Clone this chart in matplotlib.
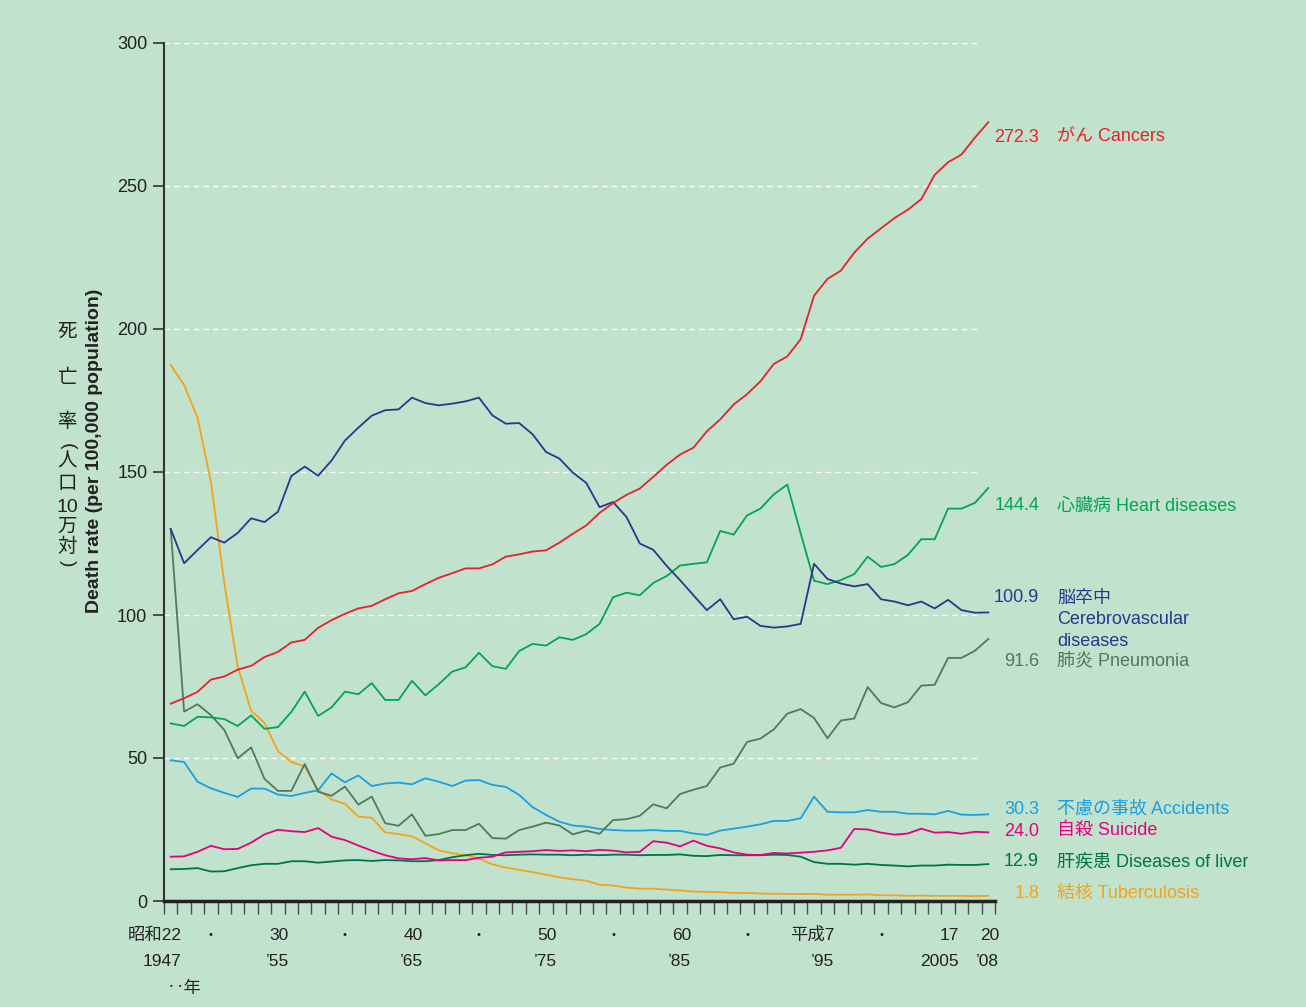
import matplotlib
matplotlib.use("Agg")
from matplotlib import pyplot as plt
from matplotlib.transforms import blended_transform_factory

# 年次 1947(昭和22) - 2008(平成20)
years = list(range(1947, 2009))

cancer = [69.0, 70.9, 73.1, 77.4, 78.5, 80.9, 82.2, 85.3, 87.1, 90.4,
          91.3, 95.5, 98.2, 100.4, 102.3, 103.2, 105.5, 107.6, 108.4, 110.8,
          113.0, 114.6, 116.3, 116.3, 117.7, 120.4, 121.2, 122.2, 122.6, 125.3,
          128.4, 131.3, 135.7, 139.1, 142.0, 144.2, 148.3, 152.5, 156.1, 158.5,
          164.2, 168.4, 173.6, 177.2, 181.7, 187.8, 190.4, 196.4, 211.6, 217.5,
          220.4, 226.7, 231.6, 235.2, 238.8, 241.7, 245.4, 253.9, 258.3, 261.0,
          266.9, 272.3]
heart = [62.1, 61.2, 64.4, 64.2, 63.6, 61.2, 64.9, 60.2, 60.8, 66.1,
         73.2, 64.7, 67.7, 73.2, 72.3, 76.2, 70.3, 70.3, 77.0, 71.9,
         75.8, 80.2, 81.7, 86.8, 82.1, 81.2, 87.4, 89.9, 89.3, 92.2,
         91.3, 93.3, 96.9, 106.2, 107.8, 106.9, 111.2, 113.6, 117.3, 117.9,
         118.4, 129.4, 128.1, 134.8, 137.2, 142.2, 145.6, 128.6, 112.0, 110.8,
         112.2, 114.3, 120.4, 116.8, 117.8, 121.0, 126.5, 126.5, 137.2, 137.2,
         139.2, 144.4]
cerebro = [130.1, 118.1, 122.7, 127.2, 125.3, 128.7, 133.8, 132.5, 136.1, 148.6,
           151.9, 148.7, 154.0, 161.0, 165.5, 169.7, 171.6, 171.9, 176.0, 174.1,
           173.3, 173.9, 174.7, 176.0, 169.8, 166.9, 167.1, 163.2, 157.0, 154.7,
           149.8, 146.2, 137.7, 139.5, 134.3, 125.0, 122.8, 117.2, 112.2, 106.9,
           101.7, 105.5, 98.5, 99.4, 96.2, 95.6, 96.0, 96.9, 117.9, 112.6,
           111.0, 110.0, 110.8, 105.5, 104.7, 103.4, 104.7, 102.3, 105.3, 101.7,
           100.8, 100.9]
pneumonia = [130.1, 66.2, 68.8, 65.0, 59.8, 49.9, 53.7, 42.7, 38.5, 38.5,
             47.9, 38.2, 36.8, 40.0, 33.7, 36.5, 27.2, 26.3, 30.3, 22.8,
             23.4, 24.8, 24.8, 27.0, 22.0, 21.8, 24.8, 26.0, 27.4, 26.4,
             23.3, 24.6, 23.5, 28.3, 28.6, 29.8, 33.8, 32.4, 37.4, 38.9,
             40.2, 46.7, 48.0, 55.6, 56.8, 60.0, 65.5, 67.1, 64.0, 56.9,
             63.1, 63.8, 74.8, 69.2, 67.7, 69.5, 75.3, 75.6, 85.0, 85.0,
             87.5, 91.6]
accidents = [49.2, 48.6, 41.7, 39.4, 37.8, 36.4, 39.3, 39.3, 37.2, 36.7,
             37.8, 38.7, 44.6, 41.5, 43.9, 40.2, 41.1, 41.4, 40.8, 42.9,
             41.7, 40.2, 42.1, 42.3, 40.6, 39.9, 37.1, 32.8, 30.1, 27.7,
             26.4, 26.0, 25.2, 24.8, 24.6, 24.6, 24.8, 24.5, 24.5, 23.6,
             23.1, 24.6, 25.3, 26.0, 26.8, 28.0, 28.0, 28.9, 36.5, 31.2,
             31.0, 31.0, 31.8, 31.2, 31.2, 30.5, 30.5, 30.3, 31.5, 30.2,
             30.1, 30.3]
suicide = [15.5, 15.6, 17.2, 19.3, 18.1, 18.2, 20.4, 23.3, 24.9, 24.4,
           24.1, 25.5, 22.5, 21.3, 19.4, 17.6, 16.0, 14.9, 14.6, 15.0,
           14.2, 14.3, 14.3, 15.1, 15.5, 17.0, 17.2, 17.4, 17.8, 17.5,
           17.7, 17.4, 17.9, 17.6, 17.0, 17.2, 20.9, 20.4, 19.1, 21.1,
           19.3, 18.4, 17.0, 16.2, 16.1, 16.8, 16.6, 16.9, 17.2, 17.7,
           18.6, 25.2, 25.0, 23.9, 23.2, 23.6, 25.3, 23.9, 24.1, 23.5,
           24.2, 24.0]
liver = [11.1, 11.2, 11.5, 10.3, 10.4, 11.5, 12.5, 13.0, 13.0, 13.9,
         13.9, 13.4, 13.8, 14.2, 14.3, 14.0, 14.3, 14.2, 13.9, 13.9,
         14.3, 15.3, 16.0, 16.5, 16.1, 16.0, 16.2, 16.3, 16.2, 16.2,
         16.0, 16.2, 16.0, 16.2, 16.2, 16.0, 16.1, 16.1, 16.3, 15.8,
         15.7, 16.1, 16.0, 16.0, 16.0, 16.2, 16.1, 15.5, 13.6, 13.0,
         13.0, 12.7, 13.0, 12.6, 12.4, 12.1, 12.4, 12.4, 12.7, 12.6,
         12.6, 12.9]
tuberculosis = [187.4, 180.4, 169.0, 146.6, 111.1, 81.9, 66.5, 62.3, 52.4, 48.6,
                47.0, 38.8, 35.5, 34.0, 29.5, 29.1, 24.0, 23.4, 22.6, 20.2,
                17.7, 16.7, 16.0, 14.9, 12.8, 11.7, 10.9, 10.1, 9.2, 8.3,
                7.6, 7.1, 5.7, 5.4, 4.7, 4.3, 4.3, 4.0, 3.7, 3.3,
                3.2, 3.1, 2.8, 2.8, 2.6, 2.5, 2.5, 2.4, 2.5, 2.2,
                2.2, 2.2, 2.3, 2.0, 2.0, 1.8, 1.9, 1.8, 1.8, 1.8,
                1.7, 1.8]

# 右端ラベル（上から順）
end_values = ["272.3", "144.4", "100.9", "91.6", "30.3", "24.0", "12.9", "1.8"]
end_names = ["がん Cancers", "心臓病 Heart diseases", "脳卒中\nCerebrovascular\ndiseases",
             "肺炎 Pneumonia", "不慮の事故 Accidents", "自殺 Suicide",
             "肝疾患 Diseases of liver", "結核 Tuberculosis"]

# x軸ラベル
label_years = [1947, 1955, 1965, 1975, 1985, 1995, 2005, 2008]
label_top = ["昭和22", "30", "40", "50", "60", "平成7", "17", "20"]
label_bottom = ["1947", "’55", "’65", "’75", "’85", "’95", "2005", "’08"]
dot_years = [1950, 1960, 1970, 1980, 1990, 2000]

BG = "#c1e2cc"
C_CANCER = "#e8202a"
C_HEART = "#00a651"
C_CEREBRO = "#2b3590"
C_PNEU = "#4f7a5c"
C_ACC = "#1a9fe0"
C_SUI = "#e4007f"
C_LIVER = "#00734a"
C_TB = "#f5a31a"
TXT = "#222222"

plt.rcParams["font.family"] = ["Liberation Sans", "Noto Sans CJK JP"]

W, H = 1306, 1007
fig = plt.figure(figsize=(W / 100, H / 100), dpi=100, facecolor=BG)
ax = fig.add_axes([164 / W, 106 / H, 831 / W, 858 / H])
ax.set_facecolor(BG)


def fy(py):
    """画像のピクセル行 -> figure座標"""
    return (H - py) / H


def fx(px):
    return px / W


# 折れ線
for vals, col in [(tuberculosis, C_TB), (liver, C_LIVER), (suicide, C_SUI),
                  (accidents, C_ACC), (pneumonia, C_PNEU), (heart, C_HEART),
                  (cerebro, C_CEREBRO), (cancer, C_CANCER)]:
    ax.plot(years, vals, color=col, lw=1.3)

ax.set_xlim(1946.5, 2008.5)
ax.set_ylim(0, 300)

# グリッド（破線・白）
ax.hlines(range(50, 301, 50), 1946.5, 2007.4, colors="white",
          linestyles=(0, (4, 3)), lw=1.0, zorder=0)

for s in ["top", "right"]:
    ax.spines[s].set_visible(False)
ax.spines["left"].set_color("#333333")
ax.spines["left"].set_linewidth(1.5)
ax.spines["bottom"].set_color(TXT)
ax.spines["bottom"].set_linewidth(2.5)

ax.set_yticks(range(0, 301, 50))
ax.tick_params(axis="y", direction="out", length=8, width=1.2, color="#333333",
               labelsize=13, labelcolor=TXT, pad=4)
ax.set_xticks([y - 0.5 for y in years] + [2008.5])
ax.set_xticklabels([])
ax.tick_params(axis="x", direction="out", length=9.5, width=1.0, color="#4a4a4a")

# x軸の2段ラベル
tr = blended_transform_factory(ax.transData, fig.transFigure)
for yr, t1, t2 in zip(label_years, label_top, label_bottom):
    off = 1.5 if t1 == "平成7" else 0.82
    ax.text(yr + off, fy(935), t1, transform=tr, ha="right", va="center",
            fontsize=12.5, color=TXT)
    ax.text(yr + off, fy(961), t2, transform=tr, ha="right", va="center",
            fontsize=12.5, color=TXT)
for yr in dot_years:
    ax.text(yr, fy(935), "•", transform=tr, ha="center", va="center",
            fontsize=8, color=TXT)
fig.text(fx(167), fy(988), "‥年", ha="left", va="center", fontsize=12.5,
         color=TXT)

# y軸タイトル（英語は回転、日本語は縦書き）
fig.text(fx(95), fy(451), "Death rate (per 100,000 population)", rotation=90,
         ha="center", va="center", fontsize=14, fontweight="bold", color=TXT)
jp_chars = ["死", "亡", "率", "(", "人", "口", "10", "万", "対", ")"]
jp_rows = [332, 378, 422, 446, 462, 485, 507, 527, 547, 563]
for ch, row in zip(jp_chars, jp_rows):
    rot = -90 if ch in "()" else 0
    fig.text(fx(67), fy(row), ch, ha="center", va="center", fontsize=14,
             color=TXT, rotation=rot)

# 右端のラベル
end_rows = [137, 506, 598, 661, 809, 831, 862, 893]
label_colors = [C_CANCER, C_HEART, C_CEREBRO, C_PNEU, C_ACC, C_SUI, C_LIVER, C_TB]
for v, name, row, col in zip(end_values, end_names, end_rows, label_colors):
    fig.text(fx(1039), fy(row), v, ha="right", va="center", fontsize=13,
             color=col)
    for k, line in enumerate(name.split("\n")):
        fig.text(fx(1057), fy(row + 21.5 * k), line, ha="left", va="center",
                 fontsize=13, color=col)

fig.savefig("out.png", dpi=100, facecolor=BG)
